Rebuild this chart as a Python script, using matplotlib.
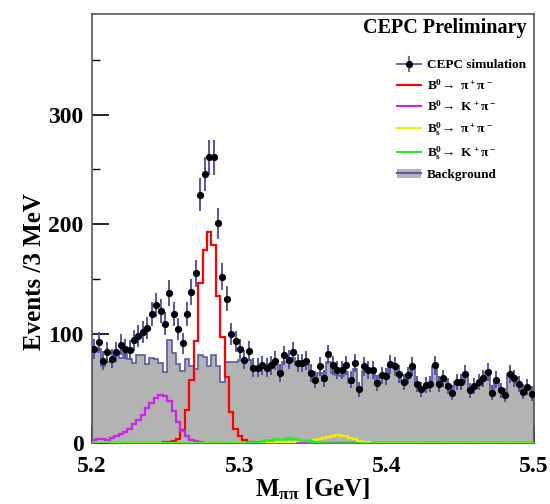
import numpy as np
import matplotlib
matplotlib.use("Agg")
import matplotlib.pyplot as plt
from matplotlib.lines import Line2D
from matplotlib.patches import Patch
from matplotlib.ticker import MultipleLocator, FixedLocator

plt.rcParams['font.family'] = ['Liberation Serif', 'DejaVu Serif']
plt.rcParams['font.weight'] = 'bold'
plt.rcParams['axes.labelweight'] = 'bold'
plt.rcParams['mathtext.fontset'] = 'custom'
plt.rcParams['mathtext.rm'] = 'Liberation Serif:bold'
plt.rcParams['mathtext.it'] = 'Liberation Serif:bold'
plt.rcParams['mathtext.bf'] = 'Liberation Serif:bold'

# 100 bins of 3 MeV between 5.2 and 5.5 GeV
x_min, x_max, n_bins = 5.2, 5.5, 100

# CEPC simulation (data points)
data = [86, 92, 75, 83, 77, 83, 90, 86, 85, 94,
        98, 101, 105, 118, 126, 121, 109, 137, 118, 104,
        91, 118, 138, 155, 227, 246, 261, 261, 201, 152,
        132, 100, 93, 86, 76, 84, 69, 69, 71, 69,
        71, 75, 64, 80, 76, 83, 73, 73, 75, 64,
        58, 70, 59, 81, 71, 67, 67, 71, 58, 73,
        49, 70, 67, 67, 55, 62, 61, 72, 70, 63,
        56, 62, 70, 54, 49, 53, 54, 71, 54, 59,
        52, 46, 56, 56, 63, 48, 52, 56, 59, 65,
        46, 58, 48, 44, 63, 59, 54, 47, 51, 45]

# Background
background = [87, 86, 70, 74, 77, 80, 78, 82, 77, 73,
               80, 80, 72, 78, 77, 73, 65, 94, 82, 72,
               66, 77, 70, 68, 80, 79, 70, 80, 70, 56,
               74, 74, 74, 76, 76, 76, 69, 69, 69, 69,
               70, 71, 64, 74, 74, 78, 71, 71, 71, 63,
               56, 64, 57, 74, 64, 62, 61, 65, 55, 68,
               48, 66, 65, 66, 55, 62, 61, 70, 70, 63,
               56, 62, 70, 54, 49, 53, 54, 70, 54, 59,
               52, 46, 56, 56, 63, 48, 52, 56, 59, 65,
               46, 58, 48, 44, 63, 59, 54, 47, 51, 45]

# B0 -> pi+ pi-  (bins 16..36)
b0_pipi = [0] * 16 + [0.5, 1, 2, 4, 12, 30, 58, 93, 146, 176,
                      193, 181, 134, 97, 60, 28, 13, 6, 3, 1, 0.5] + [0] * 63

# B0 -> K+ pi-  (bins 0..26)
b0_kpi = [3, 4, 4, 3, 5, 6, 8, 10, 13, 17,
          21, 26, 32, 37, 41, 44, 43, 38, 29, 19,
          11, 6, 3, 1.5, 0.8, 0.4, 0.2] + [0] * 73

# Bs -> pi+ pi-  (bins 38..63)
bs_pipi = [0] * 38 + [0.3, 0.5, 0.7, 0.8, 1, 1, 1.2, 1.3, 1.5, 1.6,
                      1.8, 2, 2.5, 3.5, 4.5, 5.5, 6.5, 7, 6.8, 6.2,
                      5, 3.5, 2, 1, 0.5, 0.3] + [0] * 36

# Bs -> K+ pi-  (bins 34..52)
bs_kpi = [0] * 34 + [0.3, 0.5, 0.8, 1.2, 1.8, 2.5, 3, 3.5, 3.8, 4,
                     4.3, 4, 3.8, 3.2, 2.5, 1.8, 1, 0.5, 0.3] + [0] * 47

edges = np.linspace(x_min, x_max, n_bins + 1)
centers = 0.5 * (edges[:-1] + edges[1:])
data = np.array(data, dtype=float)

fig = plt.figure(figsize=(5.5, 5.04), dpi=100)
ax = fig.add_axes([0.1673, 0.121, 0.8036, 0.8512])
ax.set_axisbelow(True)

bg_line = '#5a5aa6'
ax.stairs(background, edges, fill=True, color='#b3b3b3', zorder=1)
ax.stairs(background, edges, color=bg_line, lw=1.2, zorder=2)
ax.stairs(b0_pipi, edges, color='#ff0000', lw=1.6, zorder=3)
ax.stairs(b0_kpi, edges, color='#cc22ee', lw=1.6, zorder=3)
ax.stairs(bs_pipi, edges, color='#f0f000', lw=1.6, zorder=3)
ax.stairs(bs_kpi, edges, color='#22ee22', lw=1.8, zorder=4)

ax.errorbar(centers, data, yerr=np.sqrt(data), fmt='o', color='black',
            ms=4.2, ecolor='#4a4aa0', elinewidth=1.3, capsize=0, zorder=5)

ax.set_xlim(x_min, x_max)
ax.set_ylim(0, 392)
ax.xaxis.set_major_locator(FixedLocator([5.2, 5.3, 5.4, 5.5]))
ax.xaxis.set_minor_locator(MultipleLocator(0.02))
ax.yaxis.set_major_locator(MultipleLocator(100))
ax.yaxis.set_minor_locator(MultipleLocator(50))
ax.tick_params(direction='in', which='major', length=12, width=1.2,
               labelsize=17, pad=6)
ax.tick_params(axis='x', which='major', pad=9)
ax.tick_params(direction='in', which='minor', length=6, width=1.0)
ax.set_xticklabels(['5.2', '5.3', '5.4', '5.5'])
for s in ax.spines.values():
    s.set_color('#555555')
    s.set_linewidth(1.2)

ax.set_xlabel(r'M$_{\pi\pi}$ [GeV]', fontsize=18, fontweight='bold', labelpad=0)
ax.set_ylabel('Events /3 MeV', fontsize=18, fontweight='bold')
ax.yaxis.set_label_coords(-0.105, 0.40)

ax.text(0.984, 0.967, 'CEPC Preliminary', transform=ax.transAxes,
        ha='right', va='center', fontsize=14.5, fontweight='bold')

h_data = (Line2D([], [], color='#4a4aa0', lw=1.2),
          Line2D([], [], color='#4a4aa0', marker='|', ms=12, lw=0, mew=1.2),
          Line2D([], [], color='black', marker='o', ms=4.2, lw=0))
h_bg = (Patch(facecolor='#b3b3b3', edgecolor='none'),
        Line2D([], [], color=bg_line, lw=1.5))
handles = [h_data,
           Line2D([], [], color='#ff0000', lw=1.5),
           Line2D([], [], color='#cc22ee', lw=1.5),
           Line2D([], [], color='#f0f000', lw=1.5),
           Line2D([], [], color='#22ee22', lw=1.5),
           h_bg]
labels = ['CEPC simulation',
          r'B$^0\!\rightarrow\ \pi^+\pi^-$',
          r'B$^0\!\rightarrow\ K^+\pi^-$',
          r'B$_s^0\!\rightarrow\ \pi^+\pi^-$',
          r'B$_s^0\!\rightarrow\ K^+\pi^-$',
          'Background']
ax.legend(handles, labels, loc='upper left', bbox_to_anchor=(0.69, 0.895),
          frameon=False, fontsize=9.5, handlelength=1.8, handletextpad=0.45,
          labelspacing=0.5, borderpad=0, borderaxespad=0)

fig.savefig('out.png', dpi=100)
